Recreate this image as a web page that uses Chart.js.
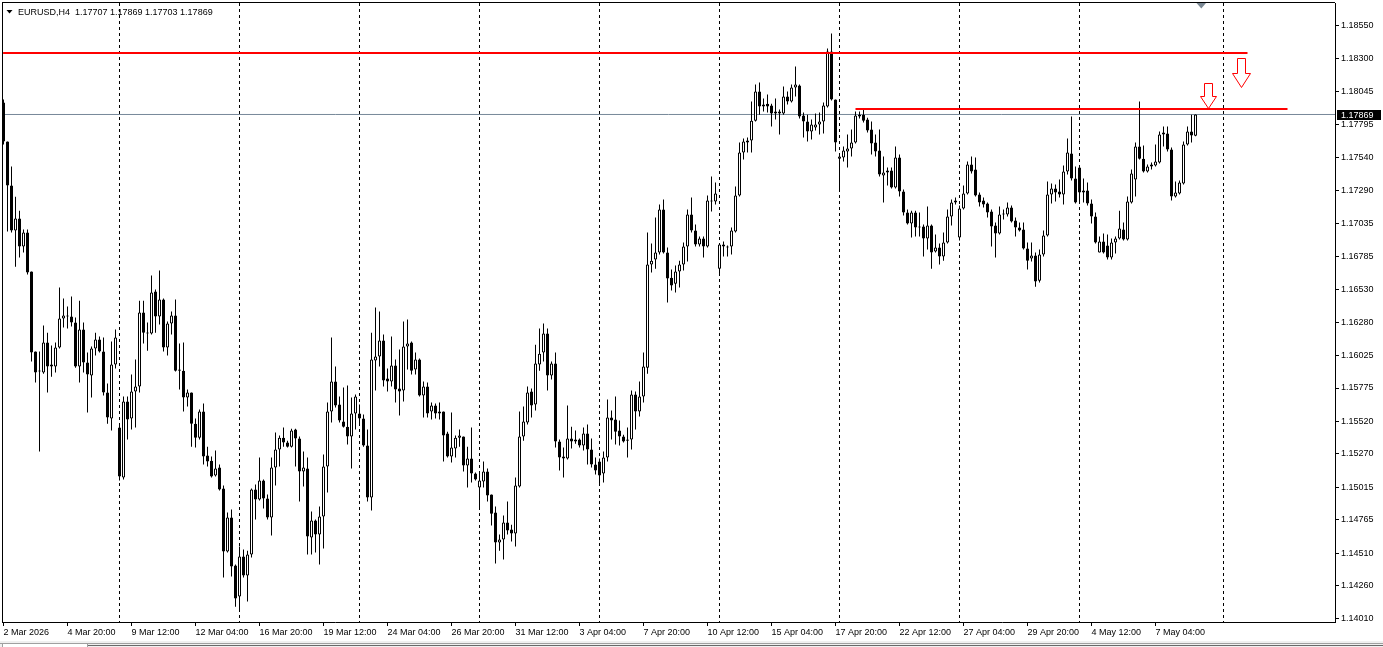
<!DOCTYPE html>
<html>
<head>
<meta charset="utf-8">
<title>EURUSD,H4</title>
<script src="https://cdn.jsdelivr.net/npm/chart.js"></script>
<style>
html,body{margin:0;padding:0;background:#fff;overflow:hidden}
#c{display:block}
</style>
</head>
<body>
<canvas id="c" width="1383" height="647"></canvas>
<script>
// ---------- DATA ----------
const symbolName = 'EURUSD,H4';

const open = [
1.17960,1.17662,1.17325,1.16980,1.17072,1.16858,1.16965,1.16667,1.16054,1.15901,
1.15893,1.16123,1.15955,1.15939,1.16085,1.16307,1.16322,1.16322,1.16276,1.15939,
1.16222,1.15970,1.15870,1.16077,1.16146,1.16054,1.15740,1.15541,1.15955,1.15472,
1.15090,1.15672,1.15541,1.15748,1.15786,1.16353,1.16199,1.16192,1.16513,1.16322,
1.16452,1.16085,1.16268,1.16330,1.15908,1.15908,1.15702,1.15740,1.15502,1.15395,
1.15595,1.15258,1.15219,1.15105,1.15166,1.15005,1.14523,1.14783,1.14416,1.14178,
1.14485,1.14339,1.14500,1.14998,1.14921,1.15066,1.14929,1.14783,1.15166,1.15304,
1.15395,1.15357,1.15326,1.15457,1.15388,1.15136,1.15158,1.14630,1.14760,1.14653,
1.14791,1.15174,1.15595,1.15825,1.15649,1.15518,1.15479,1.15403,1.15579,1.15579,
1.15541,1.15334,1.14937,1.15985,1.16016,1.16138,1.15847,1.15825,1.15947,1.15771,
1.15755,1.16092,1.16123,1.15916,1.15993,1.15717,1.15786,1.15595,1.15641,1.15579,
1.15595,1.15426,1.15250,1.15311,1.15395,1.15403,1.15181,1.15235,1.15120,1.15013,
1.15059,1.15136,1.14960,1.14821,1.14592,1.14615,1.14745,1.14691,1.14661,1.15021,
1.15403,1.15510,1.15748,1.15649,1.15955,1.16046,1.16192,1.15870,1.15962,1.15365,
1.15250,1.15235,1.15388,1.15380,1.15380,1.15334,1.15426,1.15304,1.15189,1.15212,
1.15120,1.15243,1.15549,1.15533,1.15449,1.15403,1.15372,1.15380,1.15725,1.15595,
1.15710,1.15931,1.16720,1.16758,1.16812,1.17141,1.16812,1.16620,1.16574,1.16667,
1.16720,1.16858,1.17103,1.16980,1.16874,1.16919,1.16858,1.17210,1.17203,1.16689,
1.16874,1.16858,1.16858,1.16973,1.17248,1.17578,1.17654,1.17669,1.17822,1.18045,
1.17945,1.17952,1.17937,1.17876,1.17892,1.17876,1.18006,1.17968,1.18075,1.18091,
1.17861,1.17815,1.17739,1.17769,1.17792,1.17815,1.17930,1.18351,1.17983,1.17531,
1.17540,1.17586,1.17608,1.17654,1.17868,1.17868,1.17830,1.17754,1.17654,1.17593,
1.17402,1.17440,1.17440,1.17310,1.17540,1.17279,1.17118,1.17034,1.17118,1.17011,
1.17011,1.16919,1.17019,1.16820,1.16851,1.16781,1.16889,1.17088,1.17195,1.16927,
1.17149,1.17264,1.17486,1.17448,1.17256,1.17210,1.17187,1.17126,1.17019,1.16958,
1.17103,1.17103,1.17157,1.17057,1.17004,1.16988,1.16843,1.16766,1.16789,1.16597,
1.16797,1.16942,1.17256,1.17302,1.17279,1.17256,1.17433,1.17570,1.17379,1.17463,
1.17271,1.17287,1.17187,1.17088,1.16812,1.16897,1.16866,1.16774,1.16889,1.16919,
1.16988,1.16912,1.17195,1.17371,1.17624,1.17531,1.17433,1.17486,1.17479,1.17501,
1.17716,1.17723,1.17601,1.17241,1.17264,1.17340,1.17639,1.17739,1.17707
];

const high = [
1.17983,1.17662,1.17470,1.17240,1.17133,1.16988,1.16988,1.16667,1.16054,1.16054,
1.16253,1.16199,1.16100,1.16123,1.16544,1.16460,1.16399,1.16475,1.16314,1.16444,
1.16276,1.16046,1.16092,1.16199,1.16169,1.16161,1.15809,1.16131,1.16222,1.15487,
1.15710,1.15710,1.15878,1.15993,1.16444,1.16444,1.16276,1.16636,1.16529,1.16674,
1.16460,1.16284,1.16360,1.16452,1.16115,1.16123,1.15763,1.15740,1.15541,1.15610,
1.15656,1.15326,1.15250,1.15296,1.15189,1.15028,1.14821,1.14844,1.14424,1.14561,
1.14538,1.14530,1.15005,1.15036,1.15243,1.15074,1.14960,1.15243,1.15434,1.15411,
1.15472,1.15372,1.15464,1.15464,1.15403,1.15289,1.15243,1.14829,1.14768,1.14867,
1.15266,1.15664,1.16161,1.15939,1.15710,1.15779,1.15794,1.15702,1.15725,1.15649,
1.15572,1.15457,1.16199,1.16391,1.16360,1.16184,1.15924,1.16169,1.15993,1.16069,
1.16284,1.16299,1.16131,1.16046,1.16000,1.15825,1.15817,1.15664,1.15656,1.15664,
1.15595,1.15441,1.15587,1.15411,1.15457,1.15403,1.15326,1.15472,1.15128,1.15136,
1.15212,1.15158,1.14960,1.14867,1.14653,1.14798,1.14906,1.14729,1.15090,1.15595,
1.15633,1.15786,1.15771,1.16107,1.16230,1.16268,1.16230,1.15978,1.16046,1.15380,
1.15319,1.15641,1.15479,1.15449,1.15388,1.15472,1.15495,1.15388,1.15243,1.15235,
1.15289,1.15687,1.15602,1.15710,1.15526,1.15418,1.15472,1.15755,1.15748,1.15825,
1.16046,1.16965,1.16881,1.17080,1.17179,1.17218,1.16851,1.16682,1.16712,1.16750,
1.16889,1.17141,1.17233,1.17026,1.16935,1.16935,1.17248,1.17394,1.17348,1.16881,
1.16897,1.16866,1.17004,1.17317,1.17654,1.17685,1.17693,1.17968,1.18098,1.18114,
1.17991,1.18022,1.17952,1.17991,1.17907,1.18083,1.18045,1.18098,1.18236,1.18098,
1.17884,1.17868,1.17830,1.17876,1.17884,1.17960,1.18374,1.18489,1.17983,1.17555,
1.17624,1.17716,1.17754,1.17892,1.17892,1.17907,1.17845,1.17815,1.17716,1.17754,
1.17547,1.17463,1.17463,1.17624,1.17563,1.17294,1.17141,1.17133,1.17133,1.17118,
1.17026,1.17164,1.17026,1.16950,1.16881,1.16965,1.17141,1.17218,1.17233,1.17172,
1.17325,1.17509,1.17547,1.17540,1.17271,1.17233,1.17195,1.17141,1.17042,1.17164,
1.17141,1.17195,1.17172,1.17080,1.17042,1.17042,1.16889,1.16889,1.16812,1.16835,
1.16980,1.17356,1.17340,1.17333,1.17371,1.17479,1.17685,1.17853,1.17471,1.17479,
1.17379,1.17348,1.17218,1.17118,1.16935,1.16957,1.16950,1.16919,1.16935,1.17133,
1.17042,1.17241,1.17448,1.17654,1.17968,1.17631,1.17486,1.17501,1.17639,1.17739,
1.17777,1.17777,1.17616,1.17356,1.17363,1.17662,1.17777,1.17868,1.17869
];

const low = [
1.17639,1.16973,1.16965,1.16704,1.16774,1.16812,1.16644,1.15978,1.15817,1.15289,
1.15885,1.15740,1.15862,1.15893,1.16077,1.16238,1.16230,1.16245,1.15931,1.15817,
1.15893,1.15587,1.15702,1.16023,1.16046,1.15717,1.15502,1.15449,1.15924,1.15066,
1.15074,1.15380,1.15457,1.15472,1.15740,1.16115,1.16061,1.16184,1.16199,1.16261,
1.16054,1.16023,1.16184,1.15901,1.15763,1.15595,1.15633,1.15326,1.15319,1.15380,
1.15189,1.15174,1.15090,1.15097,1.14990,1.14324,1.14515,1.14331,1.14101,1.14064,
1.14324,1.14140,1.14477,1.14768,1.14913,1.14852,1.14768,1.14645,1.15028,1.15174,
1.15326,1.15319,1.15319,1.15174,1.14906,1.15021,1.14500,1.14500,1.14515,1.14424,
1.14546,1.14975,1.15510,1.15626,1.15510,1.15472,1.15342,1.15158,1.15457,1.15495,
1.15326,1.14906,1.14837,1.15755,1.15939,1.15786,1.15748,1.15786,1.15664,1.15564,
1.15672,1.15916,1.15878,1.15878,1.15710,1.15549,1.15549,1.15533,1.15541,1.15533,
1.15212,1.15243,1.15204,1.15243,1.15326,1.15136,1.15013,1.15051,1.15066,1.14852,
1.15013,1.14906,1.14722,1.14431,1.14530,1.14462,1.14653,1.14599,1.14561,1.15013,
1.15372,1.15495,1.15549,1.15603,1.15908,1.15978,1.15755,1.15840,1.15319,1.15143,
1.15090,1.15227,1.15311,1.15349,1.15319,1.15296,1.15189,1.15166,1.15113,1.15036,
1.15051,1.15212,1.15380,1.15342,1.15334,1.15357,1.15243,1.15304,1.15457,1.15556,
1.15664,1.15885,1.16659,1.16689,1.16797,1.16804,1.16429,1.16521,1.16506,1.16544,
1.16674,1.16743,1.16965,1.16858,1.16858,1.16774,1.16851,1.17126,1.17180,1.16644,
1.16781,1.16781,1.16797,1.16965,1.17241,1.17524,1.17578,1.17578,1.17815,1.17868,
1.17892,1.17884,1.17777,1.17830,1.17716,1.17868,1.17945,1.17960,1.18006,1.17838,
1.17692,1.17662,1.17677,1.17746,1.17716,1.17723,1.17922,1.17976,1.17586,1.17279,
1.17509,1.17463,1.17547,1.17646,1.17838,1.17807,1.17731,1.17563,1.17547,1.17394,
1.17195,1.17325,1.17302,1.17302,1.17241,1.17095,1.17026,1.16927,1.16935,1.16935,
1.16781,1.16835,1.16689,1.16812,1.16720,1.16750,1.16881,1.17019,1.17180,1.16904,
1.17141,1.17256,1.17417,1.17241,1.17164,1.17157,1.17080,1.16858,1.16774,1.16950,
1.17065,1.17088,1.17042,1.16935,1.16973,1.16835,1.16682,1.16743,1.16551,1.16582,
1.16781,1.16935,1.17187,1.17203,1.17233,1.17180,1.17409,1.17363,1.17187,1.17203,
1.17195,1.17172,1.17034,1.16881,1.16812,1.16804,1.16758,1.16758,1.16804,1.16912,
1.16904,1.16904,1.17187,1.17241,1.17524,1.17425,1.17425,1.17448,1.17471,1.17494,
1.17624,1.17586,1.17210,1.17233,1.17256,1.17333,1.17631,1.17654,1.17703
];

const close = [
1.17662,1.17325,1.16980,1.17072,1.16858,1.16965,1.16659,1.16046,1.15893,1.15908,
1.16123,1.15939,1.15939,1.16085,1.16307,1.16330,1.16330,1.16276,1.15939,1.16222,
1.15970,1.15878,1.16077,1.16146,1.16054,1.15740,1.15549,1.15955,1.16161,1.15097,
1.15672,1.15533,1.15748,1.15786,1.16353,1.16199,1.16192,1.16506,1.16322,1.16452,
1.16085,1.16268,1.16330,1.15908,1.15916,1.15702,1.15740,1.15502,1.15395,1.15595,
1.15250,1.15212,1.15097,1.15158,1.14998,1.14523,1.14783,1.14408,1.14163,1.14485,
1.14339,1.14500,1.14998,1.14921,1.15066,1.14929,1.14783,1.15166,1.15304,1.15395,
1.15357,1.15326,1.15449,1.15388,1.15136,1.15166,1.14638,1.14760,1.14653,1.14791,
1.15174,1.15595,1.15825,1.15641,1.15526,1.15479,1.15403,1.15579,1.15710,1.15541,
1.15334,1.14937,1.15993,1.16016,1.16138,1.15832,1.15825,1.15947,1.15763,1.15748,
1.16092,1.16115,1.15908,1.15993,1.15717,1.15786,1.15579,1.15641,1.15579,1.15595,
1.15411,1.15250,1.15319,1.15395,1.15411,1.15181,1.15235,1.15120,1.15074,1.15066,
1.15136,1.14952,1.14813,1.14592,1.14615,1.14745,1.14684,1.14661,1.15028,1.15403,
1.15518,1.15740,1.15641,1.15962,1.16038,1.16192,1.15870,1.15962,1.15365,1.15243,
1.15235,1.15388,1.15365,1.15365,1.15334,1.15426,1.15304,1.15189,1.15143,1.15105,
1.15243,1.15549,1.15526,1.15441,1.15403,1.15365,1.15380,1.15725,1.15595,1.15710,
1.15939,1.16720,1.16750,1.16812,1.17141,1.16812,1.16613,1.16559,1.16667,1.16720,
1.16858,1.17103,1.16980,1.16874,1.16919,1.16858,1.17210,1.17203,1.17264,1.16874,
1.16858,1.16851,1.16980,1.17248,1.17578,1.17662,1.17669,1.17822,1.18045,1.17930,
1.17930,1.17930,1.17876,1.17892,1.17876,1.18006,1.17968,1.18075,1.18098,1.17854,
1.17815,1.17739,1.17792,1.17792,1.17815,1.17937,1.18351,1.17983,1.17654,1.17547,
1.17593,1.17608,1.17654,1.17861,1.17854,1.17822,1.17746,1.17646,1.17586,1.17409,
1.17425,1.17425,1.17310,1.17540,1.17279,1.17118,1.17034,1.17118,1.17004,1.17004,
1.16919,1.17019,1.16812,1.16851,1.16781,1.16889,1.17088,1.17195,1.17210,1.17149,
1.17264,1.17486,1.17433,1.17248,1.17195,1.17180,1.17118,1.17011,1.16958,1.17103,
1.17111,1.17157,1.17050,1.17004,1.16980,1.16843,1.16750,1.16789,1.16590,1.16797,
1.16942,1.17256,1.17302,1.17271,1.17256,1.17433,1.17578,1.17379,1.17195,1.17271,
1.17287,1.17187,1.17088,1.16889,1.16897,1.16812,1.16774,1.16889,1.16919,1.16996,
1.16912,1.17203,1.17417,1.17624,1.17531,1.17433,1.17471,1.17471,1.17509,1.17716,
1.17731,1.17601,1.17241,1.17271,1.17348,1.17639,1.17739,1.17708,1.17869
];

// time axis: bar index of each label, and the label text
const xTickIndex = [0,16,32,48,64,80,96,112,128,144,160,176,192,208,224,240,256,272,288];
const xTickLabels = ['2 Mar 2026','4 Mar 20:00','9 Mar 12:00','12 Mar 04:00','16 Mar 20:00',
  '19 Mar 12:00','24 Mar 04:00','26 Mar 20:00','31 Mar 12:00','3 Apr 04:00','7 Apr 20:00',
  '10 Apr 12:00','15 Apr 04:00','17 Apr 20:00','22 Apr 12:00','27 Apr 04:00','29 Apr 20:00',
  '4 May 12:00','7 May 04:00'];
// weekly separators (bar index)
const weekStartIndex = [29,59,89,119,149,179,209,239,269,305];
// price axis labels
const yTickValues = [1.18550,1.18300,1.18045,1.17795,1.17540,1.17290,1.17035,1.16785,1.16530,
  1.16280,1.16025,1.15775,1.15520,1.15270,1.15015,1.14765,1.14510,1.14260,1.14010];

// drawn resistance levels: [price, fromIndex, toIndex]
const upperLevel = [1.18340, -0.1, 311];
const lowerLevel = [1.17911, 213, 321];
const bidPrice = 1.17869;
// down arrows: bar index, price at top, price at tip
const arrowIndex = [309.375, 301.25];
const arrowTopPrice = [1.18303, 1.18111];
const arrowTipPrice = [1.18081, 1.17920];

// ---------- STYLE ----------
const FONT = "'Liberation Sans', Arial, sans-serif";
const xMin = -0.375, xMax = 332.875;
const yMin = 1.139836, yMax = 1.187226;
const arrowShaftW = [8, 8], arrowHeadW = [18, 16];

const n = close.length;
const wickData = [], bodyData = [], bodyColors = [];
for (let i = 0; i < n; i++) {
  wickData.push({x: i, y: [low[i], high[i]]});
  bodyData.push({x: i, y: [open[i], close[i]]});
  bodyColors.push(close[i] >= open[i] ? '#ffffff' : '#000000');
}
const fmt = v => v.toFixed(5);

const decor = {
  id: 'decor',
  beforeDraw(chart) {
    const ctx = chart.ctx, W = chart.width;
    ctx.save();
    ctx.fillStyle = '#ffffff';
    ctx.fillRect(0, 0, W, chart.height);
    ctx.fillStyle = '#f0f0f0';
    ctx.fillRect(0, 641, W, 6);
    ctx.fillStyle = '#a0a0a0';
    ctx.fillRect(0, 643, W, 1);
    ctx.fillStyle = '#ffffff';
    ctx.fillRect(3, 644, 84, 3);
    ctx.fillStyle = '#a0a0a0';
    ctx.fillRect(2, 643, 1, 4);
    ctx.fillRect(87, 643, 1, 4);
    ctx.fillStyle = '#696969';
    ctx.fillRect(88, 645, W - 88, 1);
    ctx.restore();
  },
  afterDraw(chart) {
    const ctx = chart.ctx, ca = chart.chartArea;
    const xs = chart.scales.x, ys = chart.scales.y;
    ctx.save();
    // frame top / left
    ctx.fillStyle = '#000';
    ctx.fillRect(ca.left, ca.top - 1, ca.right - ca.left, 1);
    ctx.fillRect(ca.left, ca.top - 1, 1, ca.bottom - ca.top + 1);

    // header
    ctx.beginPath();
    ctx.moveTo(6.5, 10); ctx.lineTo(12.5, 10); ctx.lineTo(9.5, 13.5); ctx.closePath();
    ctx.fill();
    ctx.font = '9px ' + FONT;
    ctx.textBaseline = 'alphabetic';
    ctx.textAlign = 'left';
    const L = n - 1;
    ctx.fillText(symbolName + '  ' + fmt(open[L]) + ' ' + fmt(high[L]) + ' ' + fmt(low[L]) + ' ' + fmt(close[L]), 18, 15);

    // chart shift marker
    ctx.fillStyle = '#7a8894';
    ctx.beginPath();
    ctx.moveTo(1196.5, 3); ctx.lineTo(1206, 3); ctx.lineTo(1201.3, 8.5); ctx.closePath();
    ctx.fill();

    // arrows
    ctx.strokeStyle = '#ff0000';
    ctx.lineWidth = 1;
    for (let k = 0; k < arrowIndex.length; k++) {
      const px = Math.floor(xs.getPixelForValue(arrowIndex[k])) + 0.5;
      const top = Math.round(ys.getPixelForValue(arrowTopPrice[k])) + 0.5;
      const tip = Math.round(ys.getPixelForValue(arrowTipPrice[k])) + 0.5;
      const mid = Math.round(top + (tip - top) * 0.5) + 0.5;
      const sw = arrowShaftW[k] / 2, hw = arrowHeadW[k] / 2;
      ctx.beginPath();
      ctx.moveTo(px - sw, top);
      ctx.lineTo(px + sw, top);
      ctx.lineTo(px + sw, mid);
      ctx.lineTo(px + hw, mid);
      ctx.lineTo(px, tip);
      ctx.lineTo(px - hw, mid);
      ctx.lineTo(px - sw, mid);
      ctx.closePath();
      ctx.stroke();
    }

    // bid price box
    const py = Math.floor(ys.getPixelForValue(bidPrice));
    ctx.fillStyle = '#000';
    ctx.fillRect(ca.right + 2, py - 4, 44, 10);
    ctx.fillStyle = '#fff';
    ctx.font = '9px ' + FONT;
    ctx.textBaseline = 'middle';
    ctx.fillText(fmt(bidPrice), ca.right + 6, py + 1.5);
    ctx.restore();
  }
};

new Chart(document.getElementById('c'), {
  type: 'bar',
  data: {
    datasets: [
      {
        type: 'line', label: 'bid', data: [{x: xMin, y: bidPrice}, {x: xMax, y: bidPrice}],
        borderColor: '#778899', borderWidth: 1, pointRadius: 0, order: 5,
        xAxisID: 'x', yAxisID: 'y'
      },
      {
        label: 'wick', data: wickData, backgroundColor: '#000', borderWidth: 0,
        barThickness: 1, grouped: false, inflateAmount: 0, order: 4,
        xAxisID: 'x', yAxisID: 'y'
      },
      {
        label: 'body', data: bodyData, backgroundColor: bodyColors, borderColor: '#000',
        borderWidth: 1, borderSkipped: false, barThickness: 3, grouped: false,
        inflateAmount: 0, minBarLength: 1, order: 3,
        xAxisID: 'x', yAxisID: 'y'
      },
      {
        type: 'line', label: 'upper', data: [{x: upperLevel[1], y: upperLevel[0]}, {x: upperLevel[2], y: upperLevel[0]}],
        borderColor: '#ff0000', borderWidth: 2, pointRadius: 0, order: 1,
        xAxisID: 'x', yAxisID: 'y'
      },
      {
        type: 'line', label: 'lower', data: [{x: lowerLevel[1], y: lowerLevel[0]}, {x: lowerLevel[2], y: lowerLevel[0]}],
        borderColor: '#ff0000', borderWidth: 2, pointRadius: 0, order: 1,
        xAxisID: 'x', yAxisID: 'y'
      }
    ]
  },
  options: {
    responsive: false,
    animation: false,
    devicePixelRatio: 1,
    events: [],
    layout: {padding: {left: 2, top: 3, right: 0, bottom: 6}},
    plugins: {legend: {display: false}, tooltip: {enabled: false}, title: {display: false}},
    scales: {
      x: {
        type: 'linear', position: 'bottom', min: xMin, max: xMax, offset: false,
        grid: {offset: false, drawOnChartArea: false, drawTicks: true, tickLength: 4, tickColor: '#000', color: '#000'},
        border: {display: true, color: '#000', width: 1},
        ticks: {
          autoSkip: false, maxRotation: 0, minRotation: 0, align: 'start', padding: 1,
          color: '#000', font: {family: FONT, size: 9},
          callback: (v, idx) => xTickLabels[idx] !== undefined ? xTickLabels[idx] : ''
        },
        afterBuildTicks: s => { s.ticks = xTickIndex.map(v => ({value: v})); },
        afterFit: s => { s.height = 19; s.paddingLeft = 0; s.paddingRight = 0; }
      },
      x2: {
        type: 'linear', position: 'bottom', min: xMin, max: xMax, offset: false,
        grid: {offset: false, drawOnChartArea: true, drawTicks: false, color: '#000', lineWidth: 1},
        border: {display: false, dash: [3, 3]},
        ticks: {display: false},
        afterBuildTicks: s => { s.ticks = weekStartIndex.map(v => ({value: v})); },
        afterFit: s => { s.height = 0; s.paddingLeft = 0; s.paddingRight = 0; }
      },
      y: {
        type: 'linear', position: 'right', min: yMin, max: yMax,
        grid: {drawOnChartArea: false, drawTicks: true, tickLength: 4, tickColor: '#000', color: '#000'},
        border: {display: true, color: '#000', width: 1},
        ticks: {
          color: '#000', padding: 2, font: {family: FONT, size: 9},
          callback: v => Number(v).toFixed(5)
        },
        afterBuildTicks: s => { s.ticks = yTickValues.map(v => ({value: v})); },
        afterFit: s => { s.width = 48; s.paddingTop = 0; s.paddingBottom = 0; }
      }
    }
  },
  plugins: [decor]
});
</script>
</body>
</html>
